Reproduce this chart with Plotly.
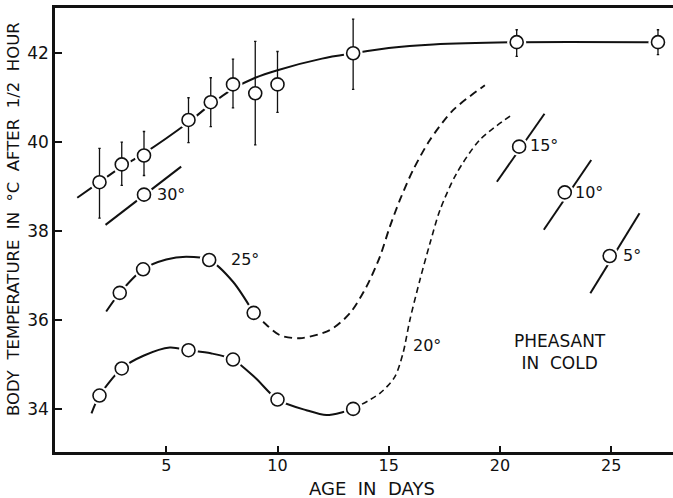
import plotly.graph_objects as go

# ---- data ----
# control curve (with error bars)
ctrl_days = [2, 3, 4, 6, 7, 8, 9, 10, 13.4, 20.75, 27.1]
ctrl_temp = [39.1, 39.5, 39.7, 40.5, 40.9, 41.3, 41.1, 41.3, 42.0, 42.25, 42.25]
ctrl_hi = [39.86, 40.0, 40.24, 41.0, 41.45, 41.87, 42.27, 42.04, 42.77, 42.53, 42.53]
ctrl_lo = [38.29, 39.03, 39.25, 39.99, 40.35, 40.77, 39.94, 40.67, 41.19, 41.93, 41.97]
ctrl_curve_days = [1.0, 2, 3, 4, 6, 7, 8, 9, 10, 12, 13.4, 15, 17, 20.75, 27.1]
ctrl_curve_temp = [38.75, 39.1, 39.45, 39.75, 40.45, 40.85, 41.2, 41.45, 41.62, 41.88, 42.0, 42.12, 42.2, 42.25, 42.25]

# 30 deg
c30_line_days = [2.27, 5.67]
c30_line_temp = [38.14, 39.45]
c30_days = [4]
c30_temp = [38.82]

# 25 deg
c25_days = [2.91, 3.96, 6.93, 8.93]
c25_temp = [36.61, 37.14, 37.35, 36.16]
c25_solid_days = [2.3, 2.91, 3.96, 5.0, 5.9, 6.93, 8.0, 8.93]
c25_solid_temp = [36.19, 36.61, 37.14, 37.36, 37.42, 37.35, 36.86, 36.16]
c25_dash_days = [8.93, 9.35, 10.1, 11.0, 12.35, 13.25, 14.0, 14.6, 15.05, 15.5, 16.09, 16.85, 17.89, 19.32]
c25_dash_temp = [36.16, 35.96, 35.66, 35.59, 35.77, 36.15, 36.75, 37.42, 38.1, 38.7, 39.37, 40.05, 40.72, 41.28]

# 20 deg
c20_days = [2, 3, 6, 8, 10, 13.4]
c20_temp = [34.3, 34.91, 35.32, 35.11, 34.21, 34.0]
c20_solid_days = [1.64, 2, 3, 4, 5.16, 6, 7, 8, 9, 10, 11.3, 12.2, 12.95, 13.4]
c20_solid_temp = [33.9, 34.3, 34.91, 35.2, 35.38, 35.32, 35.25, 35.11, 34.7, 34.21, 33.97, 33.86, 33.93, 34.0]
c20_dash_days = [13.4, 14.6, 15.27, 15.64, 15.95, 16.4, 16.85, 17.3, 18.05, 19.09, 20.52]
c20_dash_temp = [34.0, 34.35, 34.72, 35.25, 36.0, 36.9, 37.72, 38.47, 39.3, 40.05, 40.61]

# 15, 10, 5 deg
c15_line_days = [19.86, 22.0]
c15_line_temp = [39.11, 40.64]
c15_days = [20.86]
c15_temp = [39.9]
c10_line_days = [21.97, 24.1]
c10_line_temp = [38.03, 39.6]
c10_days = [22.91]
c10_temp = [38.87]
c5_line_days = [24.06, 26.27]
c5_line_temp = [36.6, 38.4]
c5_days = [24.93]
c5_temp = [37.44]

x_ticks = [5, 10, 15, 20, 25]
y_ticks = [34, 36, 38, 40, 42]

labels = [
    ("30°", 5.2, 38.83),
    ("25°", 8.56, 37.35),
    ("20°", 16.72, 35.43),
    ("15°", 21.96, 39.93),
    ("10°", 23.98, 38.86),
    ("5°", 25.93, 37.46),
]

FONT = "DejaVu Sans"
BLACK = "#111111"

fig = go.Figure()


def line(xs, ys, dash="solid", width=2.0, shape="spline"):
    fig.add_trace(go.Scatter(x=xs, y=ys, mode="lines",
                             line=dict(color=BLACK, width=width, dash=dash, shape=shape, smoothing=0.8),
                             hoverinfo="skip", showlegend=False))


line(ctrl_curve_days, ctrl_curve_temp)
line(c30_line_days, c30_line_temp, shape="linear")
line(c25_solid_days, c25_solid_temp)
line(c25_dash_days, c25_dash_temp, dash="8px,5px", width=1.9)
line(c20_solid_days, c20_solid_temp)
line(c20_dash_days, c20_dash_temp, dash="6px,4px", width=1.6)
line(c15_line_days, c15_line_temp, shape="linear")
line(c10_line_days, c10_line_temp, shape="linear")
line(c5_line_days, c5_line_temp, shape="linear")

all_x = ctrl_days + c30_days + c25_days + c20_days + c15_days + c10_days + c5_days
all_y = ctrl_temp + c30_temp + c25_temp + c20_temp + c15_temp + c10_temp + c5_temp

# white halos (gaps between curves and circles)
fig.add_trace(go.Scatter(x=all_x, y=all_y, mode="markers",
                         marker=dict(size=19, color="white", line=dict(width=0)),
                         hoverinfo="skip", showlegend=False))

# control circles with error bars
fig.add_trace(go.Scatter(
    x=ctrl_days, y=ctrl_temp, mode="markers",
    marker=dict(size=13, color="white", line=dict(color=BLACK, width=1.6)),
    error_y=dict(type="data", symmetric=False,
                 array=[h - t for h, t in zip(ctrl_hi, ctrl_temp)],
                 arrayminus=[t - l for t, l in zip(ctrl_temp, ctrl_lo)],
                 color=BLACK, thickness=1.3, width=1.2),
    hoverinfo="skip", showlegend=False))

other_x = c30_days + c25_days + c20_days + c15_days + c10_days + c5_days
other_y = c30_temp + c25_temp + c20_temp + c15_temp + c10_temp + c5_temp
fig.add_trace(go.Scatter(
    x=other_x, y=other_y, mode="markers",
    marker=dict(size=13, color="white", line=dict(color=BLACK, width=1.6)),
    hoverinfo="skip", showlegend=False))

for txt, x, y in labels:
    fig.add_annotation(x=x, y=y, text=txt, showarrow=False, xanchor="center", yanchor="middle",
                       font=dict(family=FONT, size=16, color=BLACK))

fig.add_annotation(x=22.69, y=35.27, text="PHEASANT<br>IN  COLD", showarrow=False,
                   xanchor="center", yanchor="middle",
                   font=dict(family=FONT, size=17, color=BLACK), align="center")

# axis titles as annotations (pixel-placed)
L, R, T, B = 55, 0, 8, 46
W, H = 673, 498
pw, ph = W - L - R, H - T - B
fig.add_annotation(xref="paper", yref="paper", x=(372 - L) / pw, y=(H - B - 488) / ph,
                   xanchor="center", yanchor="middle",
                   text="AGE  IN  DAYS", showarrow=False,
                   font=dict(family=FONT, size=18, color=BLACK))
fig.add_annotation(xref="paper", yref="paper", x=(13 - L) / pw, y=(H - B - 219) / ph,
                   xanchor="center", yanchor="middle",
                   text="BODY  TEMPERATURE  IN  °C  AFTER  1/2  HOUR", showarrow=False, textangle=-90,
                   font=dict(family=FONT, size=16.5, color=BLACK))

fig.update_layout(
    width=W, height=H,
    margin=dict(l=L, r=R, t=T, b=B),
    paper_bgcolor="white", plot_bgcolor="white",
    showlegend=False,
    xaxis=dict(range=[0, pw / 22.25], tickvals=x_ticks, ticktext=[str(v) for v in x_ticks],
               ticks="inside", ticklen=6, tickwidth=1.5, tickcolor=BLACK,
               showline=True, linecolor=BLACK, linewidth=2.5, mirror=True,
               showgrid=False, zeroline=False, ticklabelstandoff=-3,
               tickfont=dict(family=FONT, size=16, color=BLACK)),
    yaxis=dict(range=[33.03, 33.03 + ph / 44.45], tickvals=y_ticks, ticktext=[str(v) for v in y_ticks],
               ticks="inside", ticklen=7, tickwidth=1.5, tickcolor=BLACK,
               showline=True, linecolor=BLACK, linewidth=2.5,
               showgrid=False, zeroline=False,
               tickfont=dict(family=FONT, size=17, color=BLACK)),
)

fig.write_html("out.html", config={"displayModeBar": False},
               post_script="document.body.style.margin='0';")
